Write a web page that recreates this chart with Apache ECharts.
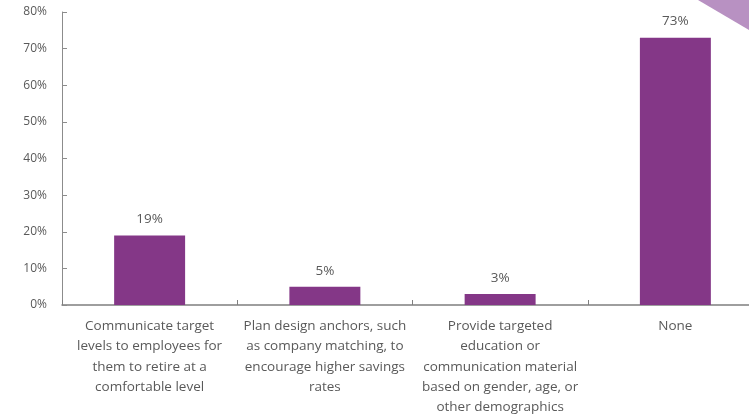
<!DOCTYPE html>
<html>
<head>
<meta charset="utf-8">
<script src="https://cdn.jsdelivr.net/npm/echarts@6/dist/echarts.min.js"></script>
<style>
  html, body { margin: 0; padding: 0; background: #ffffff; }
  #chart { width: 749px; height: 417px; }
</style>
</head>
<body>
<div id="chart"></div>
<script>
// Survey responses: share of plan sponsors per action
const categories = [
  'Communicate target\nlevels to employees for\nthem to retire at a\ncomfortable level',
  'Plan design anchors, such\nas company matching, to\nencourage higher savings\nrates',
  'Provide targeted\neducation or\ncommunication material\nbased on gender, age, or\nother demographics',
  'None'
];
const shares = [19, 5, 3, 73];
const yTicks = [0, 10, 20, 30, 40, 50, 60, 70, 80];

const textColor = '#595959';
const fontFamily = '"Open Sans", "Noto Sans", sans-serif';

const chart = echarts.init(document.getElementById('chart'), null, { renderer: 'canvas' });

chart.setOption({
  animation: false,
  backgroundColor: '#ffffff',
  grid: {
    left: 62, top: 12, width: 701, bottom: 112,
    containLabel: false,
    outerBoundsMode: 'none'
  },
  xAxis: {
    type: 'category',
    data: categories,
    axisLine: { show: true, lineStyle: { color: '#7f7f7f', width: 1.5 } },
    axisTick: { show: true, inside: true, length: 5, alignWithLabel: false, lineStyle: { color: '#7f7f7f' } },
    axisLabel: {
      interval: 0,
      margin: 11,
      color: textColor,
      fontFamily: fontFamily,
      fontSize: 13.5,
      lineHeight: 20.3
    }
  },
  yAxis: {
    type: 'value',
    min: yTicks[0],
    max: yTicks[yTicks.length - 1],
    interval: 10,
    splitLine: { show: false },
    axisLine: { show: true, lineStyle: { color: '#8c8c8c', width: 1 } },
    axisTick: { show: true, inside: true, length: 5, lineStyle: { color: '#8c8c8c' } },
    axisLabel: {
      margin: 15,
      color: textColor,
      fontFamily: fontFamily,
      fontSize: 12,
      formatter: v => v + '%'
    }
  },
  series: [{
    type: 'bar',
    data: shares,
    barWidth: '40.5%',
    itemStyle: { color: '#843787' },
    label: {
      show: true,
      position: 'top',
      distance: 9,
      color: textColor,
      fontFamily: fontFamily,
      fontSize: 13.5,
      formatter: p => p.value + '%'
    }
  }],
  graphic: [{
    type: 'polygon',
    shape: { points: [[698, 0], [749, 0], [749, 30]] },
    style: { fill: '#b891c2' },
    silent: true
  }]
});
</script>
</body>
</html>
